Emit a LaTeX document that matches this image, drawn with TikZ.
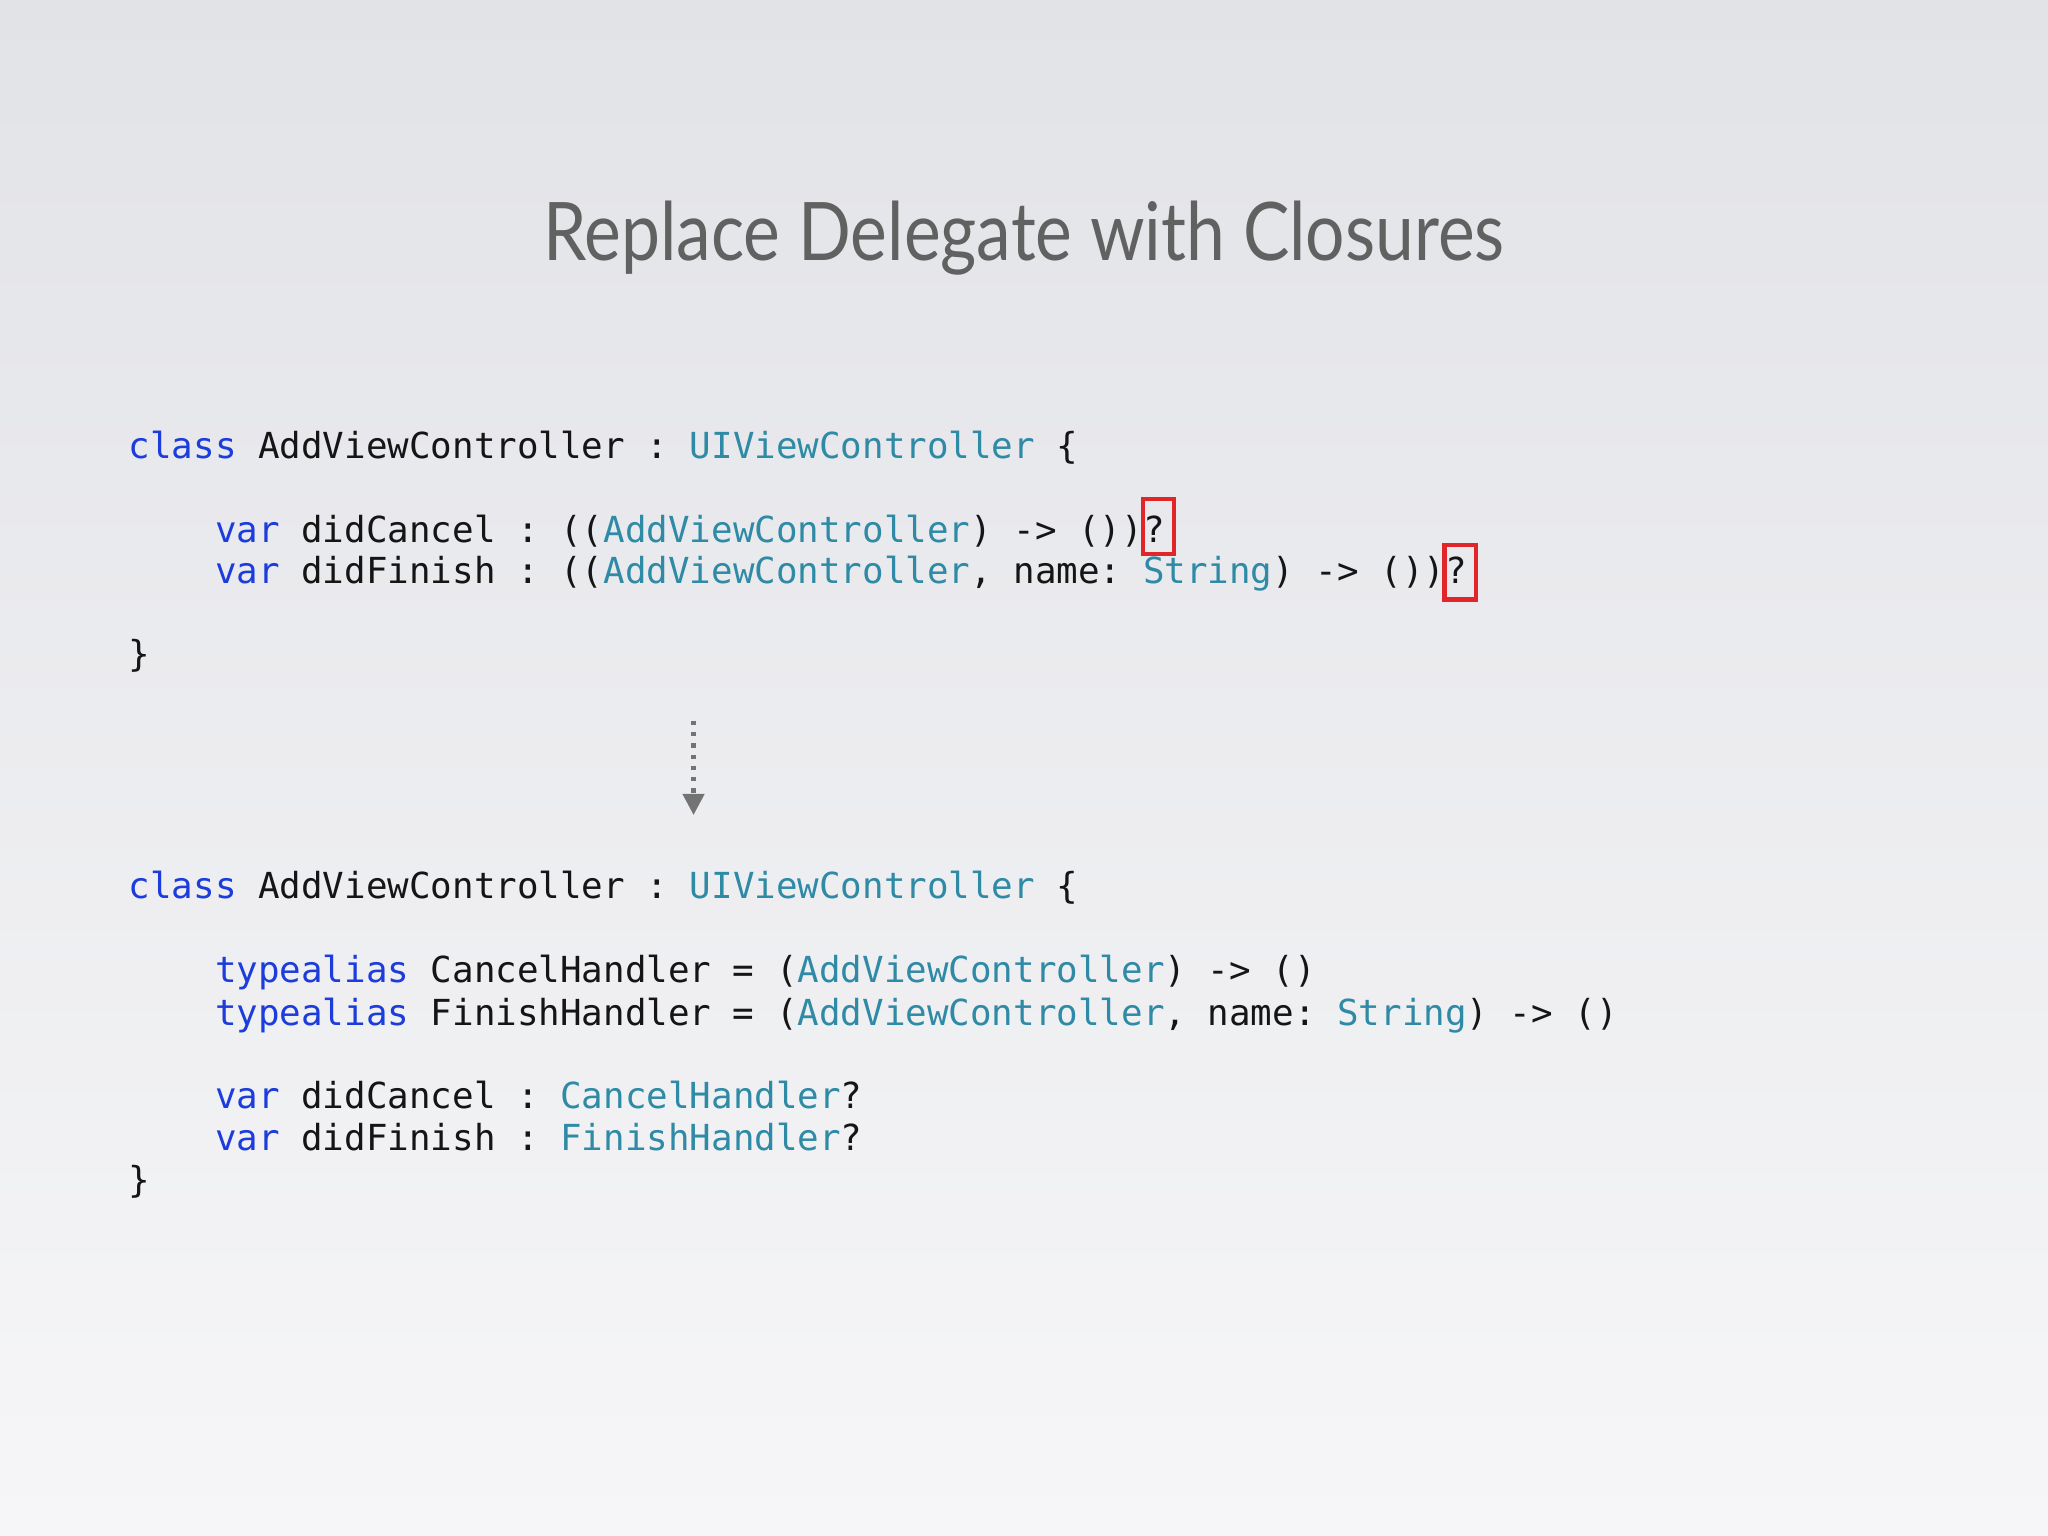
\documentclass[tikz,border=0pt]{standalone}
\usepackage{fontspec}
\setmainfont{Lato}
\setmonofont{DejaVu Sans Mono}
\usetikzlibrary{arrows.meta}
\definecolor{kwc}{HTML}{1C3CDC}
\definecolor{tyc}{HTML}{2F8AA6}
\definecolor{txc}{HTML}{151515}
\definecolor{boxred}{HTML}{E0262B}
\definecolor{bgtop}{HTML}{E2E3E7}
\definecolor{bgbot}{HTML}{F6F6F8}
\newcommand{\kwd}[1]{\textcolor{kwc}{#1}}
\newcommand{\tyd}[1]{\textcolor{tyc}{#1}}
\tikzset{codeline/.style={anchor=base west,inner sep=0pt,font=\ttfamily\fontsize{10.2}{12}\selectfont,text=txc},
 qbox/.style={draw=boxred,line width=1.2pt}}
\begin{document}
\begin{tikzpicture}[x=0.013061cm,y=-0.013061cm]
\shade[top color=bgtop,bottom color=bgbot] (0,0) rectangle (1568,1176);
\useasboundingbox (0,0) rectangle (1568,1176);
\node[inner sep=0pt,text=black!62,font=\fontsize{23}{26}\selectfont] (title) at (784,182) {\scalebox{0.86}[1]{Replace Delegate with Closures}};
\node[codeline] (a1) at (98,351) {\kwd{class} AddViewController : \tyd{UIViewController} \{};
\node[codeline] (a2) at (98,415) {\phantom{xxxx}\kwd{var} didCancel : ((\tyd{AddViewController}) -> ())?};
\node[codeline] (a3) at (98,447) {\phantom{xxxx}\kwd{var} didFinish : ((\tyd{AddViewController}, name: \tyd{String}) -> ())?};
\node[codeline] (a4) at (98,510) {\}};
\draw[qbox] (875,382) rectangle (899,424);
\draw[qbox] (1106,417) rectangle (1130,459);
\coordinate (arS) at (531,552);
\coordinate (arE) at (531,624);
\draw[black!55,line width=1.2pt,dotted,-{Triangle[width=6pt,length=6pt]}] (arS) -- (arE);
\node[codeline] (b1) at (98,688) {\kwd{class} AddViewController : \tyd{UIViewController} \{};
\node[codeline] (b2) at (98,752) {\phantom{xxxx}\kwd{typealias} CancelHandler = (\tyd{AddViewController}) -> ()};
\node[codeline] (b3) at (98,785) {\phantom{xxxx}\kwd{typealias} FinishHandler = (\tyd{AddViewController}, name: \tyd{String}) -> ()};
\node[codeline] (b4) at (98,849) {\phantom{xxxx}\kwd{var} didCancel : \tyd{CancelHandler}?};
\node[codeline] (b5) at (98,881) {\phantom{xxxx}\kwd{var} didFinish : \tyd{FinishHandler}?};
\node[codeline] (b6) at (98,913) {\}};
\end{tikzpicture}
\end{document}
